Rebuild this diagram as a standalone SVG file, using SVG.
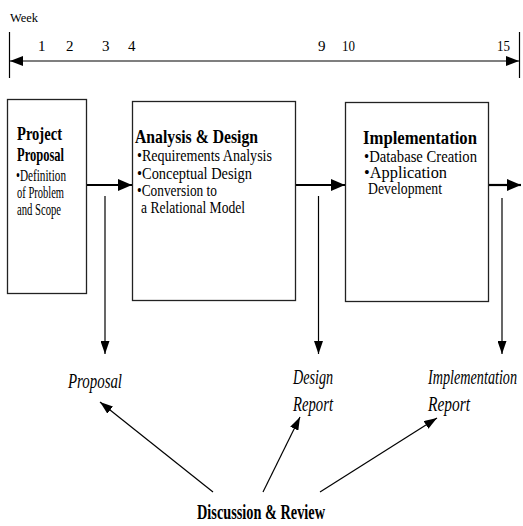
<svg xmlns="http://www.w3.org/2000/svg" width="523" height="526" viewBox="0 0 523 526">
<style>
text{font-family:"Liberation Serif","Times New Roman",serif;fill:#000}
.num{font-size:15px}
.wk{font-size:13px}
.ttl{font-size:19px;font-weight:bold}
.body{font-size:16px}
.it{font-size:20px;font-style:italic}
.big{font-size:20px;font-weight:bold}
.box{fill:#fff;stroke:#222;stroke-width:1.3}
.ln{stroke:#000;stroke-width:1.2;fill:none}
.thk{stroke:#000;stroke-width:2.2;fill:none}
</style>
<defs>
<marker id="ah" markerUnits="userSpaceOnUse" markerWidth="13" markerHeight="9" refX="13" refY="4.5" orient="auto"><path d="M0,0 L13,4.5 L0,9 z" fill="#000"/></marker>
<marker id="ahb" markerUnits="userSpaceOnUse" markerWidth="14" markerHeight="12" refX="14" refY="6" orient="auto"><path d="M0,0 L14,6 L0,12 z" fill="#000"/></marker>
<marker id="aht" markerUnits="userSpaceOnUse" markerWidth="13" markerHeight="10" refX="13" refY="5" orient="auto-start-reverse"><path d="M0,0 L13,5 L0,10 z" fill="#000"/></marker>
</defs>
<rect width="523" height="526" fill="#fff"/>

<g id="timeline">
<text class="wk" x="10" y="22" textLength="28" lengthAdjust="spacingAndGlyphs">Week</text>
<line class="ln" x1="9.5" y1="32" x2="9.5" y2="78" stroke-width="1.5"/>
<line class="ln" x1="519.5" y1="32" x2="519.5" y2="78" stroke-width="1.5"/>
<text class="num" x="38" y="51">1</text>
<text class="num" x="66" y="51">2</text>
<text class="num" x="102" y="51">3</text>
<text class="num" x="128" y="51">4</text>
<text class="num" x="318" y="51">9</text>
<text class="num" x="342" y="51" textLength="13" lengthAdjust="spacingAndGlyphs">10</text>
<text class="num" x="497" y="51" textLength="13" lengthAdjust="spacingAndGlyphs">15</text>
</g>

<g id="node-project-proposal">
<rect class="box" x="7.5" y="99.5" width="79" height="194"/>
<text class="ttl" x="17" y="140" textLength="45" lengthAdjust="spacingAndGlyphs">Project</text>
<text class="ttl" x="17" y="161" textLength="47" lengthAdjust="spacingAndGlyphs">Proposal</text>
<text class="body" x="16" y="181" textLength="50" lengthAdjust="spacingAndGlyphs">•Definition</text>
<text class="body" x="17" y="198" textLength="47" lengthAdjust="spacingAndGlyphs">of Problem</text>
<text class="body" x="17" y="215" textLength="44" lengthAdjust="spacingAndGlyphs">and Scope</text>
</g>

<g id="node-analysis-design">
<rect class="box" x="132.5" y="101.5" width="163" height="199"/>
<text class="ttl" x="135" y="143" textLength="123" lengthAdjust="spacingAndGlyphs">Analysis &amp; Design</text>
<text class="body" x="137" y="161" textLength="135" lengthAdjust="spacingAndGlyphs">•Requirements Analysis</text>
<text class="body" x="137" y="179" textLength="115" lengthAdjust="spacingAndGlyphs">•Conceptual Design</text>
<text class="body" x="137" y="196" textLength="80" lengthAdjust="spacingAndGlyphs">•Conversion to</text>
<text class="body" x="141" y="213" textLength="104" lengthAdjust="spacingAndGlyphs">a Relational Model</text>
</g>

<g id="node-implementation">
<rect class="box" x="345.5" y="102.5" width="143" height="199"/>
<text class="ttl" x="363" y="144" style="font-size:18px" textLength="114" lengthAdjust="spacingAndGlyphs">Implementation</text>
<text class="body" x="364" y="162" textLength="113" lengthAdjust="spacingAndGlyphs">•Database Creation</text>
<text class="body" x="364" y="178" textLength="83" lengthAdjust="spacingAndGlyphs">•Application</text>
<text class="body" x="368" y="194" textLength="74" lengthAdjust="spacingAndGlyphs">Development</text>
</g>

<g id="node-proposal">
<text class="it" x="68" y="388" textLength="54" lengthAdjust="spacingAndGlyphs">Proposal</text>
</g>
<g id="node-design-report">
<text class="it" x="293" y="384" textLength="40" lengthAdjust="spacingAndGlyphs">Design</text>
<text class="it" x="293" y="411" textLength="40" lengthAdjust="spacingAndGlyphs">Report</text>
</g>
<g id="node-implementation-report">
<text class="it" transform="translate(428,384) scale(0.71,1)" x="0" y="0">Implementation</text>
<text class="it" x="428" y="411" textLength="42" lengthAdjust="spacingAndGlyphs">Report</text>
</g>
<g id="node-discussion-review">
<text class="big" x="197" y="519" textLength="128" lengthAdjust="spacingAndGlyphs">Discussion &amp; Review</text>
</g>

<g id="connectors">
<line class="ln" x1="10" y1="61" x2="519" y2="61" stroke-width="1.6" marker-start="url(#aht)" marker-end="url(#aht)"/>
<line class="thk" x1="87" y1="185" x2="132" y2="185" marker-end="url(#ahb)"/>
<line class="thk" x1="296" y1="185" x2="345" y2="185" marker-end="url(#ahb)"/>
<line class="thk" x1="489" y1="185" x2="521" y2="185" marker-end="url(#ahb)"/>
<line class="ln" x1="105" y1="196" x2="105" y2="354" marker-end="url(#ah)"/>
<line class="ln" x1="318.5" y1="196" x2="318.5" y2="354" marker-end="url(#ah)"/>
<line class="ln" x1="502" y1="198" x2="502" y2="354" marker-end="url(#ah)"/>
<line class="ln" x1="213" y1="492" x2="100" y2="402" marker-end="url(#ah)"/>
<line class="ln" x1="263" y1="492" x2="300" y2="417" marker-end="url(#ah)"/>
<line class="ln" x1="320" y1="492" x2="437" y2="418" marker-end="url(#ah)"/>
</g>
</svg>
